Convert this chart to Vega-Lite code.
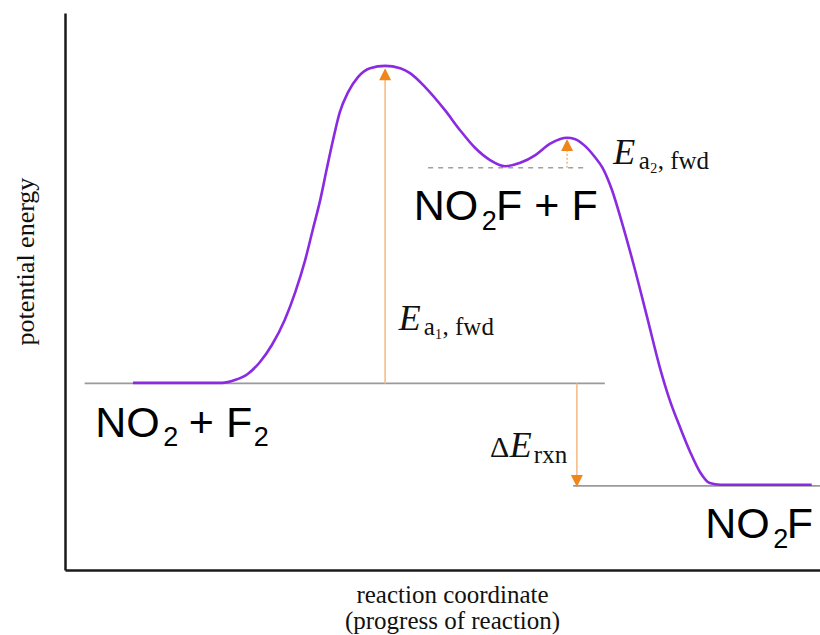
{
  "$schema": "https://vega.github.io/schema/vega-lite/v6.json",
  "width": 755,
  "height": 557,
  "autosize": {"type": "none"},
  "padding": {"left": 65, "top": 13, "right": 0, "bottom": 65},
  "background": "white",
  "config": {"view": {"stroke": null}},
  "datasets": {
    "curve": [
      {"x": 9.0, "y": 33.6}, {"x": 15.2, "y": 33.6}, {"x": 20.8, "y": 33.6}, {"x": 22.5, "y": 34.1},
      {"x": 24.2, "y": 35.2}, {"x": 25.8, "y": 37.3}, {"x": 27.4, "y": 40.4}, {"x": 29.1, "y": 44.9},
      {"x": 30.5, "y": 49.9}, {"x": 31.8, "y": 55.6}, {"x": 32.8, "y": 61.0}, {"x": 33.8, "y": 66.4},
      {"x": 34.7, "y": 72.2}, {"x": 35.5, "y": 77.2}, {"x": 36.4, "y": 82.2}, {"x": 37.5, "y": 85.8},
      {"x": 38.8, "y": 88.5}, {"x": 40.4, "y": 90.1}, {"x": 42.4, "y": 90.5},
      {"x": 44.4, "y": 90.1}, {"x": 45.7, "y": 89.2}, {"x": 47.7, "y": 86.7}, {"x": 50.3, "y": 82.6},
      {"x": 52.3, "y": 79.0}, {"x": 54.3, "y": 75.8}, {"x": 56.3, "y": 73.6}, {"x": 58.3, "y": 72.5},
      {"x": 60.3, "y": 73.1}, {"x": 62.3, "y": 74.5}, {"x": 64.2, "y": 76.5}, {"x": 65.6, "y": 77.4},
      {"x": 66.5, "y": 77.6}, {"x": 67.5, "y": 77.4}, {"x": 68.9, "y": 76.1}, {"x": 70.2, "y": 74.1},
      {"x": 71.2, "y": 72.2}, {"x": 72.4, "y": 68.4}, {"x": 73.7, "y": 62.7}, {"x": 75.4, "y": 54.4},
      {"x": 77.1, "y": 45.4}, {"x": 78.8, "y": 36.3}, {"x": 80.1, "y": 30.5}, {"x": 81.5, "y": 25.5},
      {"x": 82.8, "y": 21.2}, {"x": 84.1, "y": 17.6}, {"x": 85.4, "y": 15.6}, {"x": 86.8, "y": 15.3},
      {"x": 98.9, "y": 15.3}
    ],
    "levels": [
      {"x": 2.6, "x2": 71.5, "y": 33.5},
      {"x": 67.3, "x2": 100, "y": 15.1}
    ],
    "intermediate": [
      {"x": 48.1, "x2": 69.3, "y": 72.2}
    ],
    "shafts": [
      {"x": 42.4, "y": 33.5, "y2": 88.2},
      {"x": 67.8, "y": 33.5, "y2": 16.5}
    ],
    "shaftSmall": [
      {"x": 66.5, "y": 72.2, "y2": 75.5}
    ],
    "heads": [
      {"x": 42.4, "y": 89.0, "dir": "up"},
      {"x": 66.5, "y": 76.3, "dir": "up"},
      {"x": 67.8, "y": 16.0, "dir": "down"}
    ],
    "labels": [
      {"t": "NO", "x": 4.0, "y": 23.9, "kind": "big"},
      {"t": "+ F", "x": 16.4, "y": 23.9, "kind": "big"},
      {"t": "NO", "x": 46.2, "y": 62.8, "kind": "big"},
      {"t": "F + F", "x": 57.1, "y": 62.8, "kind": "big"},
      {"t": "NO", "x": 84.8, "y": 5.7, "kind": "big"},
      {"t": "F", "x": 95.6, "y": 5.7, "kind": "big"},
      {"t": "2", "x": 13.0, "y": 22.3, "kind": "bigsub"},
      {"t": "2", "x": 25.0, "y": 22.3, "kind": "bigsub"},
      {"t": "2", "x": 55.2, "y": 61.0, "kind": "bigsub"},
      {"t": "2", "x": 93.8, "y": 3.9, "kind": "bigsub"},
      {"t": "E", "x": 44.2, "y": 43.1, "kind": "E"},
      {"t": "E", "x": 72.6, "y": 72.9, "kind": "E"},
      {"t": "E", "x": 58.9, "y": 20.3, "kind": "E"},
      {"t": "a", "x": 47.5, "y": 42.2, "kind": "sub"},
      {"t": ", fwd", "x": 50.0, "y": 42.2, "kind": "sub"},
      {"t": "a", "x": 76.0, "y": 72.0, "kind": "sub"},
      {"t": ", fwd", "x": 78.5, "y": 72.0, "kind": "sub"},
      {"t": "rxn", "x": 62.1, "y": 19.2, "kind": "sub"},
      {"t": "1", "x": 49.0, "y": 41.5, "kind": "subsub"},
      {"t": "2", "x": 77.5, "y": 71.3, "kind": "subsub"},
      {"t": "Δ", "x": 56.3, "y": 20.3, "kind": "delta"}
    ]
  },
  "encoding": {
    "x": {
      "field": "x", "type": "quantitative",
      "scale": {"domain": [0, 100], "nice": false, "zero": false},
      "axis": {
        "title": ["reaction coordinate", "(progress of reaction)"],
        "ticks": false, "labels": false, "grid": false,
        "domainColor": "#1a1a1a", "domainWidth": 2.5,
        "titleFont": "Liberation Serif", "titleFontSize": 25, "titleFontWeight": "normal",
        "titleColor": "#111111", "titleX": 387, "titleY": 32,
        "titleAlign": "center", "titleBaseline": "alphabetic", "titleLineHeight": 26
      }
    },
    "y": {
      "field": "y", "type": "quantitative",
      "scale": {"domain": [0, 100], "nice": false, "zero": false},
      "axis": {
        "title": "potential energy",
        "ticks": false, "labels": false, "grid": false,
        "domainColor": "#1a1a1a", "domainWidth": 2.5,
        "titleFont": "Liberation Serif", "titleFontSize": 26, "titleFontWeight": "normal",
        "titleColor": "#111111", "titleAngle": -90, "titleX": -32, "titleY": 248,
        "titleAlign": "center", "titleBaseline": "alphabetic"
      }
    }
  },
  "layer": [
    {
      "data": {"name": "levels"},
      "mark": {"type": "rule", "color": "#9a9a9a", "strokeWidth": 1.6},
      "encoding": {"x2": {"field": "x2"}}
    },
    {
      "data": {"name": "intermediate"},
      "mark": {"type": "rule", "color": "#a0a0a0", "strokeWidth": 1.5, "strokeDash": [5, 5]},
      "encoding": {"x2": {"field": "x2"}}
    },
    {
      "data": {"name": "shafts"},
      "mark": {"type": "rule", "color": "#f6bd86", "strokeWidth": 1.6},
      "encoding": {"y2": {"field": "y2"}}
    },
    {
      "data": {"name": "shaftSmall"},
      "mark": {"type": "rule", "color": "#f6b77a", "strokeWidth": 1.6, "strokeDash": [2, 2]},
      "encoding": {"y2": {"field": "y2"}}
    },
    {
      "data": {"name": "curve"},
      "mark": {"type": "line", "interpolate": "monotone", "color": "#8a2be2", "strokeWidth": 2.6}
    },
    {
      "data": {"name": "heads"},
      "mark": {"type": "point", "filled": true, "size": 144, "color": "#f0861a", "opacity": 1},
      "encoding": {
        "shape": {
          "field": "dir", "type": "nominal",
          "scale": {"domain": ["up", "down"], "range": ["M0,-1L1,1L-1,1Z", "M0,1L1,-1L-1,-1Z"]},
          "legend": null
        }
      }
    },
    {
      "data": {"name": "labels"},
      "transform": [{"filter": "datum.kind === 'big'"}],
      "mark": {"type": "text", "font": "Liberation Sans", "fontSize": 43, "align": "left", "baseline": "alphabetic", "color": "#000000"},
      "encoding": {"text": {"field": "t"}}
    },
    {
      "data": {"name": "labels"},
      "transform": [{"filter": "datum.kind === 'bigsub'"}],
      "mark": {"type": "text", "font": "Liberation Sans", "fontSize": 27, "align": "left", "baseline": "alphabetic", "color": "#000000"},
      "encoding": {"text": {"field": "t"}}
    },
    {
      "data": {"name": "labels"},
      "transform": [{"filter": "datum.kind === 'E'"}],
      "mark": {"type": "text", "font": "Liberation Serif", "fontSize": 36, "fontStyle": "italic", "align": "left", "baseline": "alphabetic", "color": "#111111"},
      "encoding": {"text": {"field": "t"}}
    },
    {
      "data": {"name": "labels"},
      "transform": [{"filter": "datum.kind === 'sub'"}],
      "mark": {"type": "text", "font": "Liberation Serif", "fontSize": 25, "align": "left", "baseline": "alphabetic", "color": "#111111"},
      "encoding": {"text": {"field": "t"}}
    },
    {
      "data": {"name": "labels"},
      "transform": [{"filter": "datum.kind === 'subsub'"}],
      "mark": {"type": "text", "font": "Liberation Serif", "fontSize": 14, "align": "left", "baseline": "alphabetic", "color": "#111111"},
      "encoding": {"text": {"field": "t"}}
    },
    {
      "data": {"name": "labels"},
      "transform": [{"filter": "datum.kind === 'delta'"}],
      "mark": {"type": "text", "font": "Liberation Serif", "fontSize": 30, "align": "left", "baseline": "alphabetic", "color": "#111111"},
      "encoding": {"text": {"field": "t"}}
    }
  ]
}
